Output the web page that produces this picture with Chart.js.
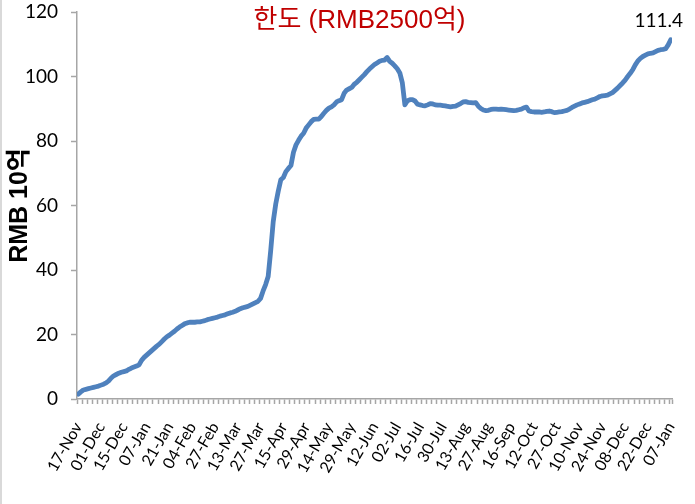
<!DOCTYPE html>
<html>
<head>
<meta charset="utf-8">
<script src="https://cdn.jsdelivr.net/npm/chart.js@4.4.0/dist/chart.umd.min.js"></script>
<style>
  html, body { margin: 0; padding: 0; background: #fff; }
  #wrap { position: relative; width: 695px; height: 504px; }
  #wrap:before { content: ''; position: absolute; left: 0; top: 0; width: 2px; height: 504px; background: #d9d9d9; }
</style>
</head>
<body>
<div id="wrap"><canvas id="myChart" width="695" height="504"></canvas></div>
<script>
// x-axis labels, one every 9 trading days
const tickLabels = ['17-Nov', '01-Dec', '15-Dec', '07-Jan', '21-Jan', '04-Feb', '27-Feb', '13-Mar', '27-Mar',
    '15-Apr', '29-Apr', '14-May', '29-May', '12-Jun', '02-Jul', '16-Jul', '30-Jul', '13-Aug', '27-Aug',
    '16-Sep', '12-Oct', '27-Oct', '10-Nov', '24-Nov', '08-Dec', '22-Dec', '07-Jan'];
const labelStep = 9;

// quota used, RMB 10억
const limitValues = [
    1.5, 2.2, 2.8, 3.0, 3.2, 3.4, 3.6, 3.8, 4.0, 4.3,
    4.6, 5.0, 5.6, 6.5, 7.2, 7.6, 8.0, 8.3, 8.5, 8.7,
    9.2, 9.6, 9.9, 10.2, 10.6, 12.0, 12.9, 13.6, 14.3, 15.0,
    15.7, 16.4, 17.0, 17.8, 18.6, 19.3, 19.8, 20.4, 21.0, 21.7,
    22.3, 22.8, 23.3, 23.6, 23.8, 23.8, 23.8, 23.9, 23.9, 24.1,
    24.3, 24.6, 24.8, 25.0, 25.2, 25.4, 25.7, 25.9, 26.1, 26.4,
    26.7, 26.9, 27.2, 27.6, 28.0, 28.3, 28.5, 28.7, 29.1, 29.5,
    29.9, 30.3, 31.2, 33.5, 35.5, 38.0, 46.0, 55.0, 60.5, 64.5,
    68.0, 68.7, 70.5, 71.5, 72.4, 76.5, 78.8, 80.2, 81.5, 82.4,
    84.0, 85.0, 86.0, 86.7, 86.8, 86.8, 87.6, 88.6, 89.5, 90.2,
    90.6, 91.2, 92.1, 92.5, 92.8, 94.8, 95.8, 96.2, 96.6, 97.6,
    98.2, 99.0, 99.8, 100.6, 101.5, 102.3, 103.0, 103.7, 104.2, 104.7,
    105.0, 105.1, 105.9, 104.7, 104.1, 103.3, 102.4, 101.1, 98.0, 91.2,
    92.5, 92.8, 92.8, 92.4, 91.4, 91.2, 91.0, 90.9, 91.2, 91.6,
    91.5, 91.2, 91.1, 91.1, 91.0, 90.9, 90.7, 90.6, 90.7, 90.8,
    91.2, 91.6, 92.1, 92.2, 92.0, 91.9, 91.8, 91.9, 90.8, 90.1,
    89.6, 89.4, 89.5, 89.8, 89.9, 89.9, 89.8, 89.9, 89.8, 89.7,
    89.6, 89.5, 89.4, 89.5, 89.7, 89.9, 90.3, 90.5, 89.3, 89.1,
    89.0, 89.0, 89.0, 88.9, 89.0, 89.2, 89.3, 89.1, 88.8, 88.9,
    89.0, 89.1, 89.3, 89.5, 89.9, 90.4, 90.8, 91.2, 91.5, 91.8,
    92.0, 92.2, 92.5, 92.8, 93.0, 93.4, 93.8, 94.0, 94.1, 94.2,
    94.6, 95.0, 95.7, 96.4, 97.2, 98.0, 98.9, 100.0, 101.0, 102.1,
    103.6, 104.8, 105.6, 106.2, 106.6, 107.0, 107.2, 107.3, 107.7, 108.1,
    108.3, 108.4, 108.6, 109.8, 111.4
];

const chartTitle = '한도 (RMB2500억)';
const axisTitle = 'RMB 10억';
const lineColor = '#4f81bd';
const axisColor = '#a6a6a6';

// title and last-value label drawn on top of the plot
const overlayText = {
    id: 'overlayText',
    afterDraw(chart) {
        const ctx = chart.ctx;
        const xs = chart.scales.x, ys = chart.scales.y;
        ctx.save();
        ctx.fillStyle = '#c00000';
        ctx.font = "26px 'Liberation Sans', 'Noto Sans CJK KR'";
        ctx.textAlign = 'center';
        ctx.textBaseline = 'middle';
        ctx.fillText(chartTitle, chart.width / 2 + 12, 21);

        const last = limitValues.length - 1;
        ctx.fillStyle = '#000';
        ctx.font = "19px Lato";
        ctx.textBaseline = 'bottom';
        ctx.fillText(limitValues[last].toFixed(1), xs.getPixelForValue(last) - 12, ys.getPixelForValue(limitValues[last]) - 9);
        ctx.restore();
    }
};

new Chart('myChart', {
    type: 'line',
    data: {
        datasets: [{
            data: limitValues.map((v, i) => ({ x: i, y: v })),
            borderColor: lineColor,
            borderWidth: 4.8,
            borderCapStyle: 'round',
            borderJoinStyle: 'round',
            pointRadius: 0,
            tension: 0,
            fill: false
        }]
    },
    options: {
        responsive: false,
        animation: false,
        layout: { padding: { top: 12, right: 23, left: 0, bottom: 0 } },
        plugins: { legend: { display: false }, tooltip: { enabled: false } },
        scales: {
            x: {
                type: 'linear',
                min: -0.5,
                max: limitValues.length - 0.5,
                afterBuildTicks: axis => {
                    const ticks = [];
                    for (let b = -0.5; b < limitValues.length - 0.5; b += 2) ticks.push({ value: b });
                    ticks.push({ value: limitValues.length - 0.5 });
                    tickLabels.forEach((t, k) => ticks.push({ value: k * labelStep }));
                    ticks.sort((a, b) => a.value - b.value);
                    axis.ticks = ticks;
                },
                afterFit: axis => {
                    axis.height = 105;
                    axis.paddingLeft = 0;
                    axis.paddingRight = 0;
                },
                ticks: {
                    autoSkip: false,
                    minRotation: 60,
                    maxRotation: 60,
                    padding: 15,
                    color: '#000',
                    font: { family: 'Lato', size: 16 },
                    callback: v => (Number.isInteger(v) && v % labelStep === 0) ? tickLabels[v / labelStep] : ''
                },
                grid: {
                    drawOnChartArea: false,
                    tickLength: 5,
                    tickWidth: 1.5,
                    tickColor: c => (c.tick && Number.isInteger(c.tick.value)) ? 'rgba(0,0,0,0)' : axisColor
                },
                border: { color: axisColor, width: 1.5 }
            },
            y: {
                min: 0,
                max: 120,
                afterFit: axis => {
                    axis.width = 77;
                    axis.paddingTop = 0;
                    axis.paddingBottom = 0;
                },
                ticks: {
                    stepSize: 20,
                    padding: 13,
                    color: '#000',
                    font: { family: 'Lato', size: 19 }
                },
                grid: { drawOnChartArea: false, tickLength: 6, tickWidth: 1.5, tickColor: axisColor },
                border: { color: axisColor, width: 1.5 },
                title: {
                    display: true,
                    text: axisTitle,
                    color: '#000',
                    font: { family: "'Liberation Sans', 'Noto Sans CJK KR'", size: 25, weight: 'bold' },
                    padding: { top: 5, bottom: 0 }
                }
            }
        }
    },
    plugins: [overlayText]
});
</script>
</body>
</html>
